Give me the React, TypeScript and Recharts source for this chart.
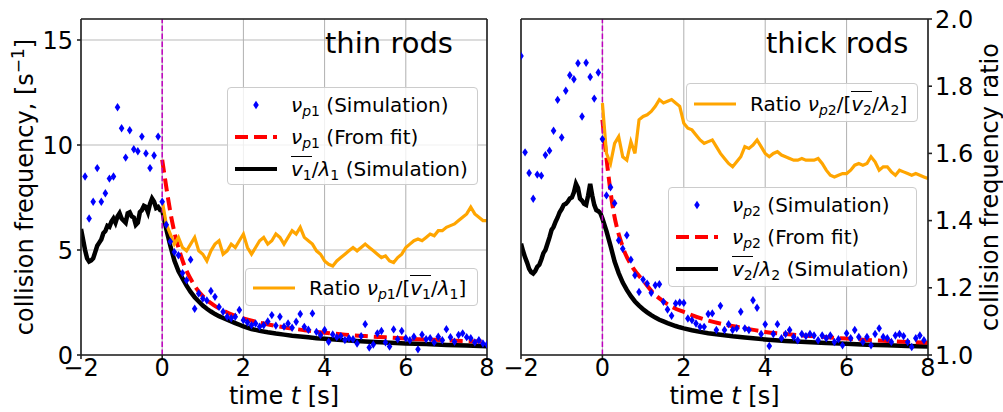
import React from "react";
import {
  CartesianGrid,
  ComposedChart,
  Line,
  ReferenceLine,
  Scatter,
  XAxis,
  YAxis,
} from "recharts";

type Pt = [number, number];

const xTicks = [-2, 0, 2, 4, 6, 8];
const freqTicks = [0, 5, 10, 15];
const ratioTicks = [1.0, 1.2, 1.4, 1.6, 1.8, 2.0];

// ---- thin rods (left panel) ----
const thinSim: Pt[] = [
  [-1.9, 8.5], [-1.8, 6.5], [-1.7, 7.3], [-1.6, 8.9], [-1.5, 7.3], [-1.4, 7.7], [-1.3, 8.4], [-1.2, 8.5],
  [-1.1, 11.8], [-1.0, 10.8], [-0.9, 9.4], [-0.8, 10.7], [-0.7, 9.8], [-0.6, 9.7], [-0.5, 10.4], [-0.4, 9.6],
  [-0.3, 8.9], [-0.2, 9.5], [-0.1, 10.4], [0.0, 7.3],
  [0.1, 6.2], [0.2, 5.4], [0.3, 4.9], [0.4, 4.75], [0.5, 3.9], [0.6, 3.56], [0.7, 4.54], [0.8, 2.2],
  [0.9, 2.93], [1.0, 2.69], [1.1, 2.6], [1.2, 3.05], [1.3, 2.77], [1.4, 2.29], [1.5, 2.06], [1.6, 1.82],
  [1.7, 1.75], [1.8, 1.82], [1.9, 2.14], [2.0, 1.66], [2.1, 1.55], [2.2, 1.42], [2.3, 1.5], [2.4, 1.35],
  [2.5, 1.42], [2.6, 1.6], [2.7, 1.9], [2.8, 1.4], [2.9, 1.82], [3.0, 1.35], [3.1, 1.5], [3.2, 1.3],
  [3.3, 1.58], [3.4, 1.95], [3.5, 1.34], [3.6, 1.2], [3.7, 1.98], [3.8, 1.1], [3.9, 0.95], [4.0, 1.19],
  [4.1, 0.63], [4.2, 0.98], [4.3, 0.85], [4.4, 0.9], [4.5, 0.71], [4.6, 0.8], [4.7, 0.75], [4.8, 0.55],
  [4.9, 0.9], [5.0, 1.47], [5.1, 0.36], [5.2, 0.5], [5.3, 1.03], [5.4, 1.14], [5.5, 0.6], [5.6, 0.4],
  [5.7, 1.22], [5.8, 0.75], [5.9, 1.14], [6.0, 0.8], [6.1, 0.7], [6.2, 0.87], [6.3, 0.27], [6.4, 0.97],
  [6.5, 0.75], [6.6, 0.8], [6.7, 0.6], [6.8, 0.87], [6.9, 0.7], [7.0, 1.23], [7.1, 0.85], [7.2, 0.63],
  [7.3, 0.95], [7.4, 1.03], [7.5, 0.85], [7.6, 0.8], [7.7, 0.6], [7.8, 0.7], [7.9, 0.55], [8.0, 0.5],
];

const thinFit: Pt[] = [
  [0, 9.3], [0.25, 6.3], [0.5, 4.5], [0.75, 3.45], [1.0, 2.8], [1.25, 2.4], [1.5, 2.12], [1.75, 1.9],
  [2.0, 1.74], [2.5, 1.5], [3.0, 1.32], [3.5, 1.18], [4.0, 1.06], [4.5, 0.97], [5.0, 0.9], [5.5, 0.84],
  [6.0, 0.78], [6.5, 0.74], [7.0, 0.7], [7.5, 0.66], [8.0, 0.63],
];

const thinMean: Pt[] = [
  [-2.0, 6.0], [-1.95, 5.5], [-1.9, 5.0], [-1.85, 4.6], [-1.8, 4.45], [-1.75, 4.5], [-1.7, 4.6], [-1.65, 4.9],
  [-1.6, 5.2], [-1.55, 5.35], [-1.5, 5.5], [-1.45, 5.8], [-1.4, 5.9], [-1.35, 6.15], [-1.3, 6.1], [-1.25, 6.35],
  [-1.2, 6.5], [-1.15, 6.3], [-1.1, 6.6], [-1.05, 6.75], [-1.0, 6.5], [-0.95, 6.4], [-0.9, 6.3], [-0.85, 6.75],
  [-0.8, 6.8], [-0.75, 6.6], [-0.7, 6.55], [-0.65, 6.2], [-0.6, 6.3], [-0.55, 6.8], [-0.5, 6.9], [-0.45, 7.1],
  [-0.4, 7.05], [-0.35, 6.8], [-0.3, 7.2], [-0.25, 7.45], [-0.2, 7.3], [-0.15, 7.0], [-0.1, 7.05], [-0.05, 6.9],
  [0.0, 6.9], [0.1, 6.0], [0.2, 5.2], [0.3, 4.5], [0.4, 4.0], [0.5, 3.65], [0.6, 3.3], [0.7, 3.0],
  [0.8, 2.75], [0.9, 2.55], [1.0, 2.35], [1.1, 2.2], [1.2, 2.07], [1.3, 1.95], [1.4, 1.85], [1.5, 1.76],
  [1.6, 1.68], [1.7, 1.6], [1.8, 1.52], [1.9, 1.44], [2.0, 1.36], [2.2, 1.24], [2.4, 1.15], [2.6, 1.08],
  [2.8, 1.02], [3.0, 0.97], [3.2, 0.92], [3.4, 0.88], [3.6, 0.84], [3.8, 0.8], [4.0, 0.77], [4.5, 0.7],
  [5.0, 0.64], [5.5, 0.6], [6.0, 0.55], [6.5, 0.52], [7.0, 0.48], [7.5, 0.45], [8.0, 0.42],
];

const thinRatio: Pt[] = [
  [0.0, 1.46], [0.1, 1.39], [0.2, 1.36], [0.3, 1.33], [0.4, 1.35], [0.5, 1.32], [0.6, 1.31], [0.7, 1.33],
  [0.8, 1.35], [0.9, 1.31], [1.0, 1.3], [1.1, 1.28], [1.2, 1.31], [1.3, 1.33], [1.4, 1.34], [1.5, 1.3],
  [1.6, 1.31], [1.7, 1.33], [1.8, 1.32], [1.9, 1.34], [2.0, 1.36], [2.1, 1.32], [2.2, 1.3], [2.3, 1.32],
  [2.4, 1.34], [2.5, 1.35], [2.6, 1.33], [2.7, 1.34], [2.8, 1.36], [2.9, 1.35], [3.0, 1.33], [3.1, 1.35],
  [3.2, 1.37], [3.3, 1.36], [3.4, 1.38], [3.5, 1.35], [3.6, 1.34], [3.7, 1.33], [3.8, 1.31], [3.9, 1.3],
  [4.0, 1.28], [4.1, 1.27], [4.2, 1.265], [4.3, 1.28], [4.4, 1.29], [4.5, 1.3], [4.6, 1.31], [4.7, 1.32],
  [4.8, 1.31], [4.9, 1.32], [5.0, 1.33], [5.1, 1.32], [5.2, 1.31], [5.3, 1.3], [5.4, 1.29], [5.5, 1.295],
  [5.6, 1.28], [5.7, 1.275], [5.8, 1.29], [5.9, 1.3], [6.0, 1.32], [6.1, 1.33], [6.2, 1.34], [6.3, 1.345],
  [6.4, 1.34], [6.5, 1.35], [6.6, 1.36], [6.7, 1.355], [6.8, 1.37], [6.9, 1.37], [7.0, 1.38], [7.1, 1.385],
  [7.2, 1.39], [7.3, 1.4], [7.4, 1.41], [7.5, 1.42], [7.6, 1.44], [7.7, 1.42], [7.8, 1.41], [7.9, 1.4],
  [8.0, 1.4],
];

// ---- thick rods (right panel) ----
const thickSim: Pt[] = [
  [-2.0, 14.24], [-1.9, 9.65], [-1.8, 8.67], [-1.7, 7.44], [-1.6, 8.59], [-1.5, 8.54], [-1.4, 9.52], [-1.3, 9.73],
  [-1.2, 10.68], [-1.1, 12.15], [-1.0, 10.36], [-0.9, 12.58], [-0.8, 13.32], [-0.7, 13.13], [-0.6, 13.89], [-0.5, 11.36],
  [-0.4, 13.92], [-0.3, 13.24], [-0.2, 12.21], [-0.1, 13.45], [0.0, 10.28],
  [0.1, 7.6], [0.2, 7.99], [0.3, 7.23], [0.4, 5.46], [0.5, 5.06], [0.6, 5.7], [0.7, 4.54], [0.8, 3.8],
  [0.9, 3.0], [1.0, 3.59], [1.1, 3.4], [1.2, 2.96], [1.3, 3.32], [1.4, 3.37], [1.5, 2.53], [1.6, 2.17],
  [1.7, 1.87], [1.8, 2.45], [1.9, 2.5], [2.0, 2.48], [2.1, 1.74], [2.2, 1.66], [2.3, 1.5], [2.4, 1.34],
  [2.5, 1.34], [2.6, 1.95], [2.7, 1.98], [2.8, 1.19], [2.9, 2.34], [3.0, 1.19], [3.1, 1.47], [3.2, 1.19],
  [3.3, 1.27], [3.4, 2.06], [3.5, 1.27], [3.6, 1.19], [3.7, 2.61], [3.8, 2.25], [3.9, 1.0], [4.0, 1.46],
  [4.1, 0.43], [4.2, 1.0], [4.3, 1.47], [4.4, 0.8], [4.5, 1.0], [4.6, 1.19], [4.7, 0.86], [4.8, 0.7],
  [4.9, 1.0], [5.0, 0.9], [5.1, 1.0], [5.2, 0.93], [5.3, 0.7], [5.4, 0.93], [5.5, 0.8], [5.6, 0.93],
  [5.7, 0.62], [5.8, 0.75], [5.9, 0.46], [6.0, 1.03], [6.1, 0.8], [6.2, 1.19], [6.3, 0.86], [6.4, 0.62],
  [6.5, 0.86], [6.6, 0.46], [6.7, 1.0], [6.8, 1.27], [6.9, 0.86], [7.0, 0.8], [7.1, 0.62], [7.2, 0.93],
  [7.3, 1.0], [7.4, 0.9], [7.5, 0.62], [7.6, 0.38], [7.7, 0.8], [7.8, 0.93], [7.9, 0.7],
];

const thickFit: Pt[] = [
  [0, 11.2], [0.25, 7.1], [0.5, 5.15], [0.75, 4.15], [1.0, 3.55], [1.25, 2.95], [1.5, 2.55], [1.75, 2.25],
  [2.0, 2.05], [2.5, 1.7], [3.0, 1.45], [3.5, 1.27], [4.0, 1.1], [4.5, 1.0], [5.0, 0.92], [5.5, 0.85],
  [6.0, 0.78], [6.5, 0.72], [7.0, 0.67], [7.5, 0.62], [8.0, 0.58],
];

const thickMean: Pt[] = [
  [-2.0, 5.3], [-1.95, 4.95], [-1.9, 4.65], [-1.85, 4.4], [-1.8, 4.1], [-1.75, 3.95], [-1.7, 3.88], [-1.65, 4.0],
  [-1.6, 4.2], [-1.55, 4.3], [-1.5, 4.55], [-1.45, 4.85], [-1.4, 5.0], [-1.35, 5.3], [-1.3, 5.6], [-1.25, 5.95],
  [-1.2, 6.1], [-1.15, 6.35], [-1.1, 6.55], [-1.05, 6.8], [-1.0, 6.95], [-0.95, 7.15], [-0.9, 7.2], [-0.85, 7.3],
  [-0.8, 7.45], [-0.75, 7.5], [-0.7, 7.75], [-0.65, 8.15], [-0.6, 7.95], [-0.55, 7.45], [-0.5, 7.35], [-0.45, 7.2],
  [-0.4, 7.15], [-0.35, 7.6], [-0.3, 8.15], [-0.25, 7.6], [-0.2, 7.15], [-0.15, 6.9], [-0.1, 6.85], [-0.05, 6.75],
  [0.0, 6.5], [0.1, 5.9], [0.2, 5.2], [0.3, 4.45], [0.4, 3.9], [0.5, 3.45], [0.6, 3.1], [0.7, 2.8],
  [0.8, 2.55], [0.9, 2.35], [1.0, 2.18], [1.1, 2.03], [1.2, 1.9], [1.3, 1.78], [1.4, 1.68], [1.5, 1.6],
  [1.6, 1.52], [1.7, 1.45], [1.8, 1.38], [1.9, 1.32], [2.0, 1.27], [2.2, 1.18], [2.4, 1.1], [2.6, 1.04],
  [2.8, 0.99], [3.0, 0.94], [3.2, 0.89], [3.5, 0.83], [4.0, 0.74], [4.5, 0.67], [5.0, 0.62], [5.5, 0.57],
  [6.0, 0.53], [6.5, 0.49], [7.0, 0.46], [7.5, 0.43], [8.0, 0.4],
];

const thickRatio: Pt[] = [
  [0.0, 1.75], [0.1, 1.6], [0.2, 1.57], [0.3, 1.63], [0.4, 1.65], [0.5, 1.59], [0.6, 1.58], [0.7, 1.635],
  [0.8, 1.6], [0.9, 1.7], [1.0, 1.71], [1.1, 1.715], [1.2, 1.725], [1.3, 1.74], [1.4, 1.76], [1.5, 1.75],
  [1.6, 1.755], [1.7, 1.76], [1.8, 1.75], [1.9, 1.74], [2.0, 1.69], [2.1, 1.675], [2.2, 1.67], [2.3, 1.655],
  [2.4, 1.64], [2.5, 1.63], [2.6, 1.635], [2.7, 1.64], [2.8, 1.62], [2.9, 1.6], [3.0, 1.585], [3.1, 1.57],
  [3.2, 1.56], [3.3, 1.575], [3.4, 1.59], [3.5, 1.62], [3.6, 1.615], [3.7, 1.625], [3.8, 1.64], [3.9, 1.62],
  [4.0, 1.6], [4.1, 1.59], [4.2, 1.6], [4.3, 1.605], [4.4, 1.595], [4.5, 1.59], [4.6, 1.585], [4.7, 1.58],
  [4.8, 1.58], [4.9, 1.585], [5.0, 1.58], [5.1, 1.58], [5.2, 1.58], [5.3, 1.585], [5.4, 1.57], [5.5, 1.55],
  [5.6, 1.535], [5.7, 1.53], [5.8, 1.535], [5.9, 1.54], [6.0, 1.54], [6.1, 1.55], [6.2, 1.565], [6.3, 1.57],
  [6.4, 1.565], [6.5, 1.57], [6.6, 1.59], [6.7, 1.575], [6.8, 1.55], [6.9, 1.56], [7.0, 1.56], [7.1, 1.545],
  [7.2, 1.535], [7.3, 1.55], [7.4, 1.545], [7.5, 1.54], [7.6, 1.535], [7.7, 1.54], [7.8, 1.535], [7.9, 1.53],
  [8.0, 1.525],
];

const FONT = "DejaVu Sans, Liberation Sans, sans-serif";
const SPINE = "#222";
const BLUE = "#0000ff";
const RED = "#ff0000";
const ORANGE = "#ffa500";
const MAGENTA = "#bf00bf";

const toRows = (a: Pt[]) => a.map(([t, v]) => ({ t, v }));
const minus = (v: number) => String(v).replace("-", "\u2212");

function Diamond(props: any) {
  const { cx, cy } = props;
  if (cx == null || cy == null) return null;
  return (
    <polygon
      points={`${cx},${cy - 4.2} ${cx + 2.8},${cy} ${cx},${cy + 4.2} ${cx - 2.8},${cy}`}
      fill={BLUE}
    />
  );
}

function Panel({
  left,
  width,
  margin,
  leftAxisWidth,
  rightAxisWidth,
  sim,
  fit,
  mean,
  ratio,
  freqLabels,
  ratioLabels,
}: {
  left: number;
  width: number;
  margin: { top: number; right: number; bottom: number; left: number };
  leftAxisWidth: number;
  rightAxisWidth: number;
  sim: Pt[];
  fit: Pt[];
  mean: Pt[];
  ratio: Pt[];
  freqLabels: boolean;
  ratioLabels: boolean;
}) {
  const tickStyle = { fontSize: 24, fill: "#000", fontFamily: FONT };
  return (
    <div style={{ position: "absolute", left, top: 0 }}>
      <ComposedChart width={width} height={412} margin={margin}>
        <CartesianGrid yAxisId="l" vertical={false} stroke="#d0d0d0" strokeWidth={1.5} />
        <CartesianGrid yAxisId="l" horizontal={false} stroke="#b0b0b0" strokeWidth={1} />
        <XAxis
          dataKey="t"
          type="number"
          domain={[-2, 8]}
          ticks={xTicks}
          allowDataOverflow
          stroke={SPINE}
          strokeWidth={1.6}
          tickSize={4}
          tickMargin={0}
          height={57}
          tick={tickStyle}
          tickFormatter={minus}
        />
        <YAxis
          yAxisId="l"
          type="number"
          domain={[0, 16]}
          ticks={freqTicks}
          allowDataOverflow
          width={leftAxisWidth}
          stroke={SPINE}
          strokeWidth={1.6}
          tickSize={4}
          tickMargin={4}
          tick={freqLabels ? tickStyle : false}
        />
        <YAxis
          yAxisId="r"
          orientation="right"
          type="number"
          domain={[1, 2]}
          ticks={ratioTicks}
          allowDataOverflow
          width={rightAxisWidth}
          stroke={SPINE}
          strokeWidth={1.6}
          tickSize={4}
          tickMargin={3}
          tickLine={ratioLabels ? { stroke: SPINE } : { stroke: ORANGE }}
          tick={ratioLabels ? tickStyle : false}
          tickFormatter={(v: number) => v.toFixed(1)}
        />
        <Scatter
          yAxisId="l"
          data={toRows(sim)}
          dataKey="v"
          fill={BLUE}
          shape={Diamond}
          isAnimationActive={false}
        />
        <Line
          yAxisId="l"
          data={toRows(mean)}
          dataKey="v"
          type="linear"
          stroke="#000"
          strokeWidth={4.5}
          dot={false}
          isAnimationActive={false}
        />
        <Line
          yAxisId="l"
          data={toRows(fit)}
          dataKey="v"
          type="monotone"
          stroke={RED}
          strokeWidth={4}
          strokeDasharray="13 6"
          dot={false}
          isAnimationActive={false}
        />
        <ReferenceLine
          yAxisId="l"
          x={0}
          stroke={MAGENTA}
          strokeWidth={1.5}
          strokeDasharray="5.5 2.4"
        />
        <Line
          yAxisId="r"
          data={toRows(ratio)}
          dataKey="v"
          type="linear"
          stroke={ORANGE}
          strokeWidth={3.2}
          dot={false}
          isAnimationActive={false}
        />
        <ReferenceLine yAxisId="l" y={16} stroke={SPINE} strokeWidth={1.6} />
      </ComposedChart>
    </div>
  );
}

type Kind = "diamond" | "dash" | "solid" | "orange";

function Swatch({ kind }: { kind: Kind }) {
  return (
    <svg width={42} height={20} style={{ display: "block" }}>
      {kind === "diamond" && <polygon points="21,5.8 23.8,10 21,14.2 18.2,10" fill={BLUE} />}
      {kind === "dash" && (
        <line x1={0} y1={10} x2={42} y2={10} stroke={RED} strokeWidth={4} strokeDasharray="13 6" />
      )}
      {kind === "solid" && <line x1={0} y1={10} x2={42} y2={10} stroke="#000" strokeWidth={4} />}
      {kind === "orange" && <line x1={0} y1={10} x2={42} y2={10} stroke={ORANGE} strokeWidth={3} />}
    </svg>
  );
}

const Sub = ({ children }: { children: React.ReactNode }) => (
  <span style={{ fontSize: "0.7em", position: "relative", top: "0.3em" }}>{children}</span>
);
const Nu = ({ n }: { n: string }) => (
  <span>
    <i>ν</i>
    <Sub>
      <i>p</i>
      {n}
    </Sub>
  </span>
);
const VBar = ({ n }: { n: string }) => (
  <span>
    <span style={{ borderTop: "1.5px solid #000", paddingTop: 0 }}>
      <i>v</i>
      <Sub>{n}</Sub>
    </span>
    /<i>λ</i>
    <Sub>{n}</Sub>
  </span>
);

function LegendBox({
  x,
  y,
  w,
  h,
  rows,
}: {
  x: number;
  y: number;
  w: number;
  h: number;
  rows: { kind: Kind; label: React.ReactNode }[];
}) {
  const first = rows.length === 1 ? h / 2 : 16.5;
  return (
    <div
      style={{
        position: "absolute",
        left: x,
        top: y,
        width: w,
        height: h,
        boxSizing: "border-box",
        background: "rgba(255,255,255,0.8)",
        border: "1px solid #cccccc",
        borderRadius: 4,
      }}
    >
      {rows.map((r, i) => {
        const c = first + i * 32;
        return (
          <React.Fragment key={i}>
            <div style={{ position: "absolute", left: 7, top: c - 10 }}>
              <Swatch kind={r.kind} />
            </div>
            <div
              style={{
                position: "absolute",
                left: 63,
                top: c - 13,
                height: 26,
                lineHeight: "26px",
                fontSize: 20,
                whiteSpace: "nowrap",
                color: "#000",
              }}
            >
              {r.label}
            </div>
          </React.Fragment>
        );
      })}
    </div>
  );
}

export default function App() {
  return (
    <div
      style={{
        position: "absolute",
        left: 0,
        top: 0,
        width: 1003,
        height: 412,
        background: "#fff",
        fontFamily: FONT,
        overflow: "hidden",
      }}
    >
      <Panel
        left={0}
        width={500}
        margin={{ top: 19, right: 12, bottom: 0, left: 0 }}
        leftAxisWidth={81}
        rightAxisWidth={1}
        sim={thinSim}
        fit={thinFit}
        mean={thinMean}
        ratio={thinRatio}
        freqLabels
        ratioLabels={false}
      />
      <Panel
        left={500}
        width={503}
        margin={{ top: 19, right: 0, bottom: 0, left: 20 }}
        leftAxisWidth={1}
        rightAxisWidth={75}
        sim={thickSim}
        fit={thickFit}
        mean={thickMean}
        ratio={thickRatio}
        freqLabels={false}
        ratioLabels
      />

      <svg
        width={1003}
        height={412}
        style={{ position: "absolute", left: 0, top: 0, pointerEvents: "none" }}
        fontFamily={FONT}
      >
        <text x={325} y={53} fontSize={29} fill="#000">
          thin rods
        </text>
        <text x={766} y={53} fontSize={29} fill="#000">
          thick rods
        </text>
        <text x={284} y={404} fontSize={24} textAnchor="middle" fill="#000">
          time <tspan fontStyle="italic">t</tspan> [s]
        </text>
        <text x={724.5} y={404} fontSize={24} textAnchor="middle" fill="#000">
          time <tspan fontStyle="italic">t</tspan> [s]
        </text>
        <text transform="translate(33,187) rotate(-90)" fontSize={24} textAnchor="middle" fill="#000">
          collision frequency, [s
          <tspan fontSize={17} dy={-9}>
            −1
          </tspan>
          <tspan dy={9}>]</tspan>
        </text>
        <text transform="translate(998,187) rotate(-90)" fontSize={24} textAnchor="middle" fill="#000">
          collision frequency ratio
        </text>
      </svg>

      <LegendBox
        x={227}
        y={87}
        w={251}
        h={98}
        rows={[
          { kind: "diamond", label: <span><Nu n="1" /> (Simulation)</span> },
          { kind: "dash", label: <span><Nu n="1" /> (From fit)</span> },
          { kind: "solid", label: <span><VBar n="1" /> (Simulation)</span> },
        ]}
      />
      <LegendBox
        x={245}
        y={268}
        w={233}
        h={38}
        rows={[
          { kind: "orange", label: <span>Ratio <Nu n="1" />/[<VBar n="1" />]</span> },
        ]}
      />
      <LegendBox
        x={686}
        y={83}
        w={232}
        h={39}
        rows={[
          { kind: "orange", label: <span>Ratio <Nu n="2" />/[<VBar n="2" />]</span> },
        ]}
      />
      <LegendBox
        x={668}
        y={187}
        w={249}
        h={100}
        rows={[
          { kind: "diamond", label: <span><Nu n="2" /> (Simulation)</span> },
          { kind: "dash", label: <span><Nu n="2" /> (From fit)</span> },
          { kind: "solid", label: <span><VBar n="2" /> (Simulation)</span> },
        ]}
      />
    </div>
  );
}
